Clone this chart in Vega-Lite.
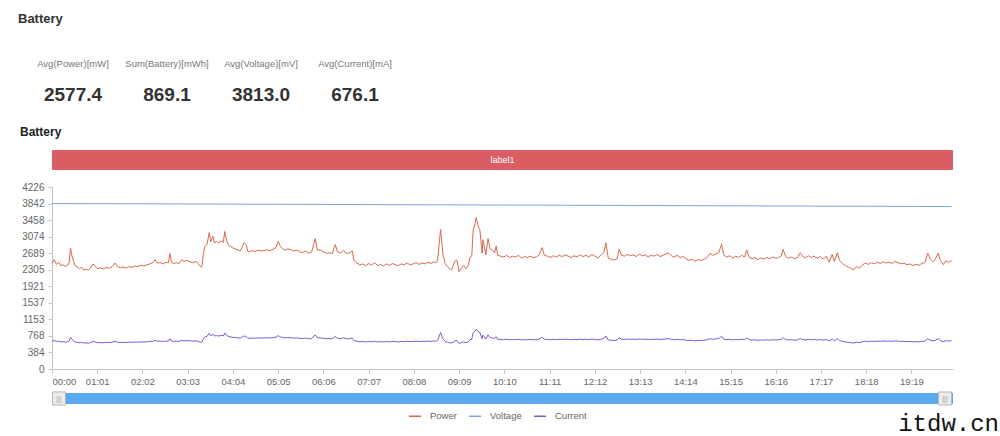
{
  "$schema": "https://vega.github.io/schema/vega-lite/v6.json",
  "background": "white",
  "padding": {"left": 18, "top": 13, "right": 0, "bottom": 0},
  "bounds": "flush",
  "spacing": 0,
  "config": {
    "font": "Liberation Sans",
    "view": {"stroke": null},
    "axis": {"domainColor": "#c4c4c4", "tickColor": "#c4c4c4", "labelColor": "#666", "tickSize": 4, "grid": false, "title": null}
  },
  "datasets": {
    "stats": [
      {"metric": "Avg(Power)[mW]", "value": "2577.4"},
      {"metric": "Sum(Battery)[mWh]", "value": "869.1"},
      {"metric": "Avg(Voltage)[mV]", "value": "3813.0"},
      {"metric": "Avg(Current)[mA]", "value": "676.1"}
    ],
    "labels": [{"label": "label1", "start": 0, "end": 1215}],
    "slider": [{"start": 0, "end": 1215}],
    "battery": [
      {"t":0,"Power":2450,"Current":641,"Voltage":3842},
      {"t":3,"Power":2540,"Current":665},
      {"t":6,"Power":2430,"Current":636},
      {"t":9,"Power":2480,"Current":649},
      {"t":12,"Power":2400,"Current":628},
      {"t":15,"Power":2420,"Current":634},
      {"t":18,"Power":2380,"Current":623},
      {"t":21,"Power":2410,"Current":631},
      {"t":23,"Power":2460,"Current":644},
      {"t":25,"Power":2810,"Current":736},
      {"t":27,"Power":2620,"Current":686},
      {"t":29,"Power":2500,"Current":654},
      {"t":31,"Power":2400,"Current":628},
      {"t":34,"Power":2370,"Current":620},
      {"t":37,"Power":2330,"Current":610},
      {"t":40,"Power":2360,"Current":618},
      {"t":43,"Power":2300,"Current":602},
      {"t":46,"Power":2320,"Current":607},
      {"t":49,"Power":2290,"Current":599},
      {"t":52,"Power":2350,"Current":615},
      {"t":55,"Power":2440,"Current":639},
      {"t":58,"Power":2400,"Current":628},
      {"t":61,"Power":2330,"Current":610},
      {"t":65,"Power":2350,"Current":615},
      {"t":69,"Power":2320,"Current":607},
      {"t":73,"Power":2360,"Current":618},
      {"t":77,"Power":2340,"Current":613},
      {"t":81,"Power":2380,"Current":623},
      {"t":85,"Power":2460,"Current":644},
      {"t":88,"Power":2380,"Current":623},
      {"t":92,"Power":2350,"Current":615},
      {"t":96,"Power":2370,"Current":620},
      {"t":100,"Power":2340,"Current":613,"Voltage":3837},
      {"t":104,"Power":2380,"Current":623},
      {"t":108,"Power":2360,"Current":618},
      {"t":112,"Power":2390,"Current":626},
      {"t":116,"Power":2380,"Current":623},
      {"t":120,"Power":2410,"Current":631},
      {"t":124,"Power":2390,"Current":626},
      {"t":128,"Power":2420,"Current":634},
      {"t":132,"Power":2440,"Current":639},
      {"t":136,"Power":2470,"Current":647},
      {"t":139,"Power":2540,"Current":665},
      {"t":142,"Power":2460,"Current":644},
      {"t":146,"Power":2470,"Current":647},
      {"t":150,"Power":2440,"Current":639},
      {"t":154,"Power":2480,"Current":649},
      {"t":157,"Power":2470,"Current":647},
      {"t":159,"Power":2680,"Current":702},
      {"t":161,"Power":2480,"Current":649},
      {"t":164,"Power":2450,"Current":641},
      {"t":168,"Power":2470,"Current":647},
      {"t":171,"Power":2440,"Current":639},
      {"t":175,"Power":2540,"Current":665},
      {"t":178,"Power":2500,"Current":654},
      {"t":182,"Power":2520,"Current":660},
      {"t":186,"Power":2490,"Current":652},
      {"t":190,"Power":2470,"Current":647},
      {"t":194,"Power":2500,"Current":654},
      {"t":197,"Power":2450,"Current":641},
      {"t":200,"Power":2380,"Current":623,"Voltage":3831},
      {"t":202,"Power":2370,"Current":620},
      {"t":204,"Power":2650,"Current":694},
      {"t":206,"Power":2840,"Current":743},
      {"t":209,"Power":2890,"Current":757},
      {"t":212,"Power":3170,"Current":830},
      {"t":214,"Power":2950,"Current":772},
      {"t":217,"Power":3080,"Current":806},
      {"t":219,"Power":2930,"Current":767},
      {"t":222,"Power":2960,"Current":775},
      {"t":225,"Power":2920,"Current":764},
      {"t":228,"Power":2980,"Current":780},
      {"t":231,"Power":2940,"Current":770},
      {"t":233,"Power":3195,"Current":836},
      {"t":236,"Power":2950,"Current":772},
      {"t":239,"Power":2860,"Current":749},
      {"t":242,"Power":2830,"Current":741},
      {"t":245,"Power":2800,"Current":733},
      {"t":248,"Power":2780,"Current":728},
      {"t":251,"Power":2760,"Current":723},
      {"t":254,"Power":2740,"Current":717},
      {"t":257,"Power":2850,"Current":746},
      {"t":259,"Power":2930,"Current":767},
      {"t":262,"Power":2880,"Current":754},
      {"t":264,"Power":2730,"Current":715},
      {"t":267,"Power":2720,"Current":712},
      {"t":270,"Power":2750,"Current":720},
      {"t":274,"Power":2730,"Current":715},
      {"t":278,"Power":2760,"Current":723},
      {"t":282,"Power":2740,"Current":717},
      {"t":286,"Power":2750,"Current":720},
      {"t":290,"Power":2770,"Current":725},
      {"t":294,"Power":2750,"Current":720},
      {"t":298,"Power":2780,"Current":728},
      {"t":302,"Power":2820,"Current":738,"Voltage":3825},
      {"t":305,"Power":2960,"Current":775},
      {"t":308,"Power":2850,"Current":746},
      {"t":311,"Power":2790,"Current":730},
      {"t":315,"Power":2760,"Current":723},
      {"t":318,"Power":2790,"Current":730},
      {"t":322,"Power":2770,"Current":725},
      {"t":326,"Power":2740,"Current":717},
      {"t":330,"Power":2760,"Current":723},
      {"t":334,"Power":2720,"Current":712},
      {"t":338,"Power":2700,"Current":707},
      {"t":342,"Power":2740,"Current":717},
      {"t":346,"Power":2690,"Current":704},
      {"t":350,"Power":2710,"Current":709},
      {"t":355,"Power":3030,"Current":793},
      {"t":358,"Power":2760,"Current":723},
      {"t":362,"Power":2760,"Current":723},
      {"t":366,"Power":2720,"Current":712},
      {"t":370,"Power":2690,"Current":704},
      {"t":374,"Power":2700,"Current":707},
      {"t":378,"Power":2680,"Current":702},
      {"t":382,"Power":2890,"Current":757},
      {"t":385,"Power":2720,"Current":712},
      {"t":389,"Power":2690,"Current":704},
      {"t":393,"Power":2760,"Current":723},
      {"t":397,"Power":2680,"Current":702},
      {"t":401,"Power":2700,"Current":707,"Voltage":3819},
      {"t":405,"Power":2740,"Current":717},
      {"t":407,"Power":2530,"Current":662},
      {"t":410,"Power":2470,"Current":647},
      {"t":415,"Power":2420,"Current":634},
      {"t":419,"Power":2440,"Current":639},
      {"t":423,"Power":2400,"Current":628},
      {"t":427,"Power":2450,"Current":641},
      {"t":431,"Power":2410,"Current":631},
      {"t":435,"Power":2470,"Current":647},
      {"t":439,"Power":2400,"Current":628},
      {"t":443,"Power":2430,"Current":636},
      {"t":447,"Power":2390,"Current":626},
      {"t":451,"Power":2440,"Current":639},
      {"t":455,"Power":2410,"Current":631},
      {"t":459,"Power":2450,"Current":641},
      {"t":463,"Power":2420,"Current":634},
      {"t":467,"Power":2400,"Current":628},
      {"t":471,"Power":2440,"Current":639},
      {"t":475,"Power":2420,"Current":634},
      {"t":479,"Power":2460,"Current":644},
      {"t":483,"Power":2420,"Current":634},
      {"t":487,"Power":2440,"Current":639},
      {"t":491,"Power":2470,"Current":647},
      {"t":495,"Power":2430,"Current":636},
      {"t":499,"Power":2460,"Current":644,"Voltage":3813},
      {"t":503,"Power":2440,"Current":639},
      {"t":507,"Power":2480,"Current":649},
      {"t":511,"Power":2450,"Current":641},
      {"t":515,"Power":2490,"Current":652},
      {"t":518,"Power":2470,"Current":647},
      {"t":520,"Power":2530,"Current":662},
      {"t":524,"Power":3240,"Current":848},
      {"t":527,"Power":2690,"Current":704},
      {"t":530,"Power":2450,"Current":641},
      {"t":533,"Power":2380,"Current":623},
      {"t":536,"Power":2330,"Current":610},
      {"t":539,"Power":2300,"Current":602},
      {"t":543,"Power":2500,"Current":654},
      {"t":546,"Power":2530,"Current":662},
      {"t":549,"Power":2260,"Current":592},
      {"t":552,"Power":2340,"Current":613},
      {"t":555,"Power":2410,"Current":631},
      {"t":558,"Power":2330,"Current":610},
      {"t":561,"Power":2390,"Current":626},
      {"t":564,"Power":2600,"Current":681},
      {"t":566,"Power":2620,"Current":686},
      {"t":568,"Power":3230,"Current":846},
      {"t":571,"Power":3400,"Current":890},
      {"t":572,"Power":3520,"Current":921},
      {"t":575,"Power":3300,"Current":864},
      {"t":577,"Power":3230,"Current":846},
      {"t":580,"Power":2690,"Current":704},
      {"t":581,"Power":3000,"Current":785},
      {"t":583,"Power":2850,"Current":746},
      {"t":585,"Power":2650,"Current":694},
      {"t":588,"Power":3030,"Current":793},
      {"t":591,"Power":2780,"Current":728},
      {"t":594,"Power":2760,"Current":723},
      {"t":597,"Power":2700,"Current":707},
      {"t":599,"Power":2860,"Current":749},
      {"t":601,"Power":2640,"Current":691,"Voltage":3808},
      {"t":605,"Power":2620,"Current":686},
      {"t":609,"Power":2600,"Current":681},
      {"t":613,"Power":2640,"Current":691},
      {"t":617,"Power":2590,"Current":678},
      {"t":621,"Power":2620,"Current":686},
      {"t":625,"Power":2600,"Current":681},
      {"t":629,"Power":2640,"Current":691},
      {"t":633,"Power":2580,"Current":675},
      {"t":637,"Power":2610,"Current":683},
      {"t":641,"Power":2590,"Current":678},
      {"t":645,"Power":2620,"Current":686},
      {"t":649,"Power":2590,"Current":678},
      {"t":653,"Power":2600,"Current":681},
      {"t":657,"Power":2650,"Current":694},
      {"t":661,"Power":2820,"Current":738},
      {"t":664,"Power":2640,"Current":691},
      {"t":668,"Power":2620,"Current":686},
      {"t":672,"Power":2590,"Current":678},
      {"t":676,"Power":2630,"Current":689},
      {"t":680,"Power":2600,"Current":681},
      {"t":684,"Power":2640,"Current":691},
      {"t":688,"Power":2610,"Current":683},
      {"t":692,"Power":2650,"Current":694},
      {"t":696,"Power":2620,"Current":686},
      {"t":700,"Power":2590,"Current":678,"Voltage":3802},
      {"t":704,"Power":2630,"Current":689},
      {"t":708,"Power":2600,"Current":681},
      {"t":712,"Power":2650,"Current":694},
      {"t":716,"Power":2610,"Current":683},
      {"t":720,"Power":2640,"Current":691},
      {"t":724,"Power":2600,"Current":681},
      {"t":728,"Power":2660,"Current":696},
      {"t":732,"Power":2620,"Current":686},
      {"t":736,"Power":2580,"Current":675},
      {"t":740,"Power":2640,"Current":691},
      {"t":744,"Power":2700,"Current":707},
      {"t":747,"Power":2930,"Current":767},
      {"t":750,"Power":2580,"Current":675},
      {"t":754,"Power":2550,"Current":668},
      {"t":758,"Power":2530,"Current":662},
      {"t":762,"Power":2560,"Current":670},
      {"t":765,"Power":2780,"Current":728},
      {"t":768,"Power":2640,"Current":691},
      {"t":772,"Power":2620,"Current":686},
      {"t":776,"Power":2660,"Current":696},
      {"t":780,"Power":2630,"Current":689},
      {"t":784,"Power":2650,"Current":694},
      {"t":788,"Power":2610,"Current":683},
      {"t":792,"Power":2670,"Current":699},
      {"t":796,"Power":2630,"Current":689},
      {"t":800,"Power":2650,"Current":694,"Voltage":3796},
      {"t":804,"Power":2600,"Current":681},
      {"t":808,"Power":2640,"Current":691},
      {"t":812,"Power":2620,"Current":686},
      {"t":816,"Power":2660,"Current":696},
      {"t":820,"Power":2610,"Current":683},
      {"t":824,"Power":2640,"Current":691},
      {"t":828,"Power":2670,"Current":699},
      {"t":831,"Power":2700,"Current":707},
      {"t":835,"Power":2630,"Current":689},
      {"t":839,"Power":2600,"Current":681},
      {"t":843,"Power":2640,"Current":691},
      {"t":847,"Power":2590,"Current":678},
      {"t":851,"Power":2610,"Current":683},
      {"t":855,"Power":2560,"Current":670},
      {"t":859,"Power":2520,"Current":660},
      {"t":863,"Power":2550,"Current":668},
      {"t":867,"Power":2500,"Current":654},
      {"t":871,"Power":2540,"Current":665},
      {"t":875,"Power":2520,"Current":660},
      {"t":879,"Power":2550,"Current":668},
      {"t":883,"Power":2580,"Current":675},
      {"t":887,"Power":2680,"Current":702},
      {"t":891,"Power":2640,"Current":691},
      {"t":895,"Power":2670,"Current":699},
      {"t":899,"Power":2700,"Current":707,"Voltage":3790},
      {"t":903,"Power":2900,"Current":759},
      {"t":906,"Power":2640,"Current":691},
      {"t":910,"Power":2600,"Current":681},
      {"t":914,"Power":2630,"Current":689},
      {"t":918,"Power":2580,"Current":675},
      {"t":922,"Power":2620,"Current":686},
      {"t":926,"Power":2590,"Current":678},
      {"t":930,"Power":2640,"Current":691},
      {"t":934,"Power":2600,"Current":681},
      {"t":937,"Power":2760,"Current":723},
      {"t":940,"Power":2600,"Current":681},
      {"t":944,"Power":2560,"Current":670},
      {"t":948,"Power":2590,"Current":678},
      {"t":952,"Power":2540,"Current":665},
      {"t":956,"Power":2580,"Current":675},
      {"t":960,"Power":2550,"Current":668},
      {"t":964,"Power":2590,"Current":678},
      {"t":968,"Power":2560,"Current":670},
      {"t":972,"Power":2600,"Current":681},
      {"t":976,"Power":2570,"Current":673},
      {"t":980,"Power":2590,"Current":678},
      {"t":983,"Power":2620,"Current":686},
      {"t":986,"Power":2780,"Current":728},
      {"t":989,"Power":2620,"Current":686},
      {"t":993,"Power":2570,"Current":673},
      {"t":997,"Power":2600,"Current":681},
      {"t":1001,"Power":2560,"Current":670,"Voltage":3784},
      {"t":1005,"Power":2580,"Current":675},
      {"t":1009,"Power":2700,"Current":707},
      {"t":1012,"Power":2620,"Current":686},
      {"t":1016,"Power":2580,"Current":675},
      {"t":1020,"Power":2630,"Current":689},
      {"t":1024,"Power":2590,"Current":678},
      {"t":1028,"Power":2620,"Current":686},
      {"t":1032,"Power":2570,"Current":673},
      {"t":1036,"Power":2610,"Current":683},
      {"t":1040,"Power":2550,"Current":668},
      {"t":1044,"Power":2620,"Current":686},
      {"t":1048,"Power":2480,"Current":649},
      {"t":1052,"Power":2660,"Current":696},
      {"t":1055,"Power":2500,"Current":654},
      {"t":1059,"Power":2700,"Current":707},
      {"t":1062,"Power":2520,"Current":660},
      {"t":1066,"Power":2450,"Current":641},
      {"t":1070,"Power":2400,"Current":628},
      {"t":1074,"Power":2360,"Current":618},
      {"t":1078,"Power":2330,"Current":610},
      {"t":1081,"Power":2300,"Current":602},
      {"t":1085,"Power":2380,"Current":623},
      {"t":1089,"Power":2340,"Current":613},
      {"t":1093,"Power":2420,"Current":634},
      {"t":1097,"Power":2460,"Current":644},
      {"t":1101,"Power":2430,"Current":636,"Voltage":3779},
      {"t":1105,"Power":2470,"Current":647},
      {"t":1109,"Power":2440,"Current":639},
      {"t":1113,"Power":2480,"Current":649},
      {"t":1117,"Power":2450,"Current":641},
      {"t":1121,"Power":2490,"Current":652},
      {"t":1125,"Power":2460,"Current":644},
      {"t":1129,"Power":2480,"Current":649},
      {"t":1133,"Power":2450,"Current":641},
      {"t":1137,"Power":2500,"Current":654},
      {"t":1141,"Power":2470,"Current":647},
      {"t":1145,"Power":2440,"Current":639},
      {"t":1149,"Power":2460,"Current":644},
      {"t":1153,"Power":2420,"Current":634},
      {"t":1157,"Power":2440,"Current":639},
      {"t":1161,"Power":2400,"Current":628},
      {"t":1165,"Power":2430,"Current":636},
      {"t":1169,"Power":2410,"Current":631},
      {"t":1173,"Power":2450,"Current":641},
      {"t":1177,"Power":2470,"Current":647},
      {"t":1181,"Power":2690,"Current":704},
      {"t":1184,"Power":2560,"Current":670},
      {"t":1188,"Power":2490,"Current":652},
      {"t":1191,"Power":2540,"Current":665},
      {"t":1195,"Power":2690,"Current":704},
      {"t":1198,"Power":2520,"Current":660},
      {"t":1202,"Power":2420,"Current":634},
      {"t":1205,"Power":2510,"Current":657},
      {"t":1209,"Power":2480,"Current":649},
      {"t":1213,"Power":2520,"Current":660,"Voltage":3772}
    ]
  },
  "vconcat": [
    {
      "width": 376,
      "height": 110,
      "title": {"text": "Battery", "anchor": "start", "frame": "group", "dx": -34, "offset": 14, "fontSize": 13, "fontWeight": "bold", "color": "#333"},
      "data": {"name": "stats"},
      "encoding": {
        "x": {"field": "metric", "type": "nominal", "sort": null, "scale": {"paddingInner": 0, "paddingOuter": 0}, "axis": null}
      },
      "layer": [
        {"mark": {"type": "text", "dx": -26, "dy": -31, "fontSize": 9.5, "color": "#777"}, "encoding": {"text": {"field": "metric"}}},
        {"mark": {"type": "text", "dx": -26, "dy": 0, "fontSize": 19, "fontWeight": "bold", "color": "#333"}, "encoding": {"text": {"field": "value"}}}
      ]
    },
    {
      "width": 901,
      "height": 20,
      "title": {"text": "Battery", "anchor": "start", "frame": "group", "dx": -32, "offset": 11, "fontSize": 12, "fontWeight": "bold", "color": "#222"},
      "data": {"name": "labels"},
      "layer": [
        {"mark": {"type": "rect", "color": "#d95d63"}, "encoding": {"x": {"field": "start", "type": "quantitative", "scale": {"domain": [0, 1215], "nice": false}, "axis": null}, "x2": {"field": "end"}}},
        {"mark": {"type": "text", "color": "white", "fontSize": 9}, "encoding": {"text": {"field": "label"}}}
      ]
    },
    {"width": 1, "height": 17, "data": {"values": []}, "mark": "point"},
    {
      "width": 901,
      "height": 182,
      "data": {"name": "battery"},
      "transform": [
        {"fold": ["Power", "Voltage", "Current"], "as": ["series", "value"]},
        {"filter": "isValid(datum.value)"}
      ],
      "mark": {"type": "line", "strokeWidth": 1},
      "encoding": {
        "x": {
          "field": "t", "type": "quantitative",
          "scale": {"domain": [0, 1215], "nice": false},
          "axis": {
            "values": [0, 61, 122, 183, 244, 305, 366, 427, 488, 549, 610, 671, 732, 793, 854, 915, 976, 1037, 1098, 1159],
            "labelExpr": "pad('' + floor(datum.value / 60), 2, '0', 'left') + ':' + pad('' + (datum.value % 60), 2, '0', 'left')",
            "labelFlush": true, "labelFontSize": 9.5, "labelPadding": 3
          }
        },
        "y": {
          "field": "value", "type": "quantitative",
          "scale": {"domain": [0, 4226], "nice": false},
          "axis": {"values": [0, 384, 768, 1153, 1537, 1921, 2305, 2689, 3074, 3458, 3842, 4226], "format": "d", "labelFontSize": 10, "labelPadding": 4}
        },
        "color": {
          "field": "series", "type": "nominal",
          "scale": {"domain": ["Power", "Voltage", "Current"], "range": ["#d8694f", "#7ba6e2", "#7e57d6"]},
          "legend": {"orient": "none", "legendX": 356, "legendY": 369, "direction": "horizontal", "title": null, "symbolType": "stroke", "symbolSize": 144, "symbolStrokeWidth": 1.5, "labelFontSize": 9.5, "labelColor": "#666", "columnPadding": 9, "labelOffset": 8}
        }
      }
    },
    {"width": 1, "height": 24, "data": {"values": []}, "mark": "point"},
    {
      "width": 901,
      "height": 11,
      "title": {"text": "itdw.cn", "orient": "bottom", "anchor": "end", "frame": "group", "dx": 46, "offset": 5, "font": "Liberation Mono", "fontSize": 24, "fontWeight": "normal", "color": "#111"},
      "data": {"name": "slider"},
      "layer": [
        {"mark": {"type": "rect", "color": "#5aa9ee"}, "encoding": {"x": {"field": "start", "type": "quantitative", "scale": {"domain": [0, 1215], "nice": false}, "axis": null}, "x2": {"field": "end"}}},
        {"mark": {"type": "point", "shape": "square", "size": 170, "filled": true, "fill": "#ececec", "stroke": "#b5b5b5", "strokeWidth": 1, "opacity": 1, "xOffset": 7}, "encoding": {"x": {"field": "start", "type": "quantitative"}}},
        {"mark": {"type": "point", "shape": "square", "size": 170, "filled": true, "fill": "#ececec", "stroke": "#b5b5b5", "strokeWidth": 1, "opacity": 1, "xOffset": -8}, "encoding": {"x": {"field": "end", "type": "quantitative"}}},
        {"mark": {"type": "text", "text": "|||", "fontSize": 7, "color": "#999", "dx": 7}, "encoding": {"x": {"field": "start", "type": "quantitative"}}},
        {"mark": {"type": "text", "text": "|||", "fontSize": 7, "color": "#999", "dx": -8}, "encoding": {"x": {"field": "end", "type": "quantitative"}}}
      ]
    }
  ]
}
